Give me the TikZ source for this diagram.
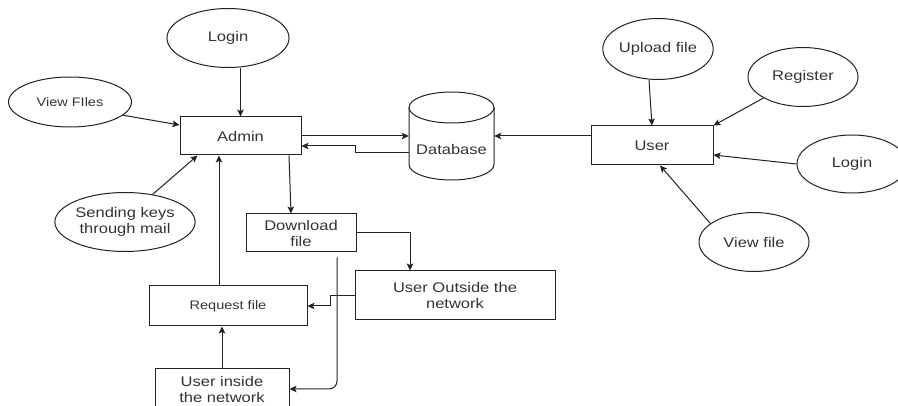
\documentclass[tikz,border=0pt]{standalone}
\usepackage{fontspec}
\setmainfont{Liberation Sans}[FakeStretch=1.18]
\usetikzlibrary{shapes.geometric,arrows.meta,calc}
\definecolor{ink}{HTML}{222222}
\definecolor{txt}{HTML}{333333}
\tikzset{
  base/.style={draw=ink, line width=1pt, text=txt, inner sep=0pt, align=center,
    font=\fontsize{14}{16}\selectfont},
  proc/.style={base, rectangle},
  oval/.style={base, ellipse},
  small/.style={font=\fontsize{12.3}{15}\selectfont},
  arr/.style={draw=ink, line width=1pt, -{Stealth[length=7pt,width=6.5pt,inset=1.5pt]}},
}
\begin{document}
\begin{tikzpicture}[x=1pt, y=-1pt]
\clip (0,0) rectangle (898,406);

% admin side
\node[oval, minimum width=122pt, minimum height=59pt] (loginA) at (228,38) {Login};
\node[oval, small, minimum width=123pt, minimum height=50pt] (viewfiles) at (70,102) {View FIles};
\node[oval, minimum width=134pt, minimum height=59pt] (sendkeys) at (125,222) {Sending keys\\through mail};
\node[proc, minimum width=121pt, minimum height=38pt] (admin) at (240.5,136) {Admin};
\node[proc, minimum width=110pt, minimum height=38pt] (download) at (301,233) {Download\\file};
\node[proc, small, minimum width=158pt, minimum height=40pt] (request) at (228,306) {Request file};
\node[proc, minimum width=134pt, minimum height=40pt] (inside) at (222,389) {User inside\\the network};
\node[proc, minimum width=200pt, minimum height=49pt] (outside) at (455,295.5) {User Outside the\\network};

% database cylinder
\node[minimum width=85pt, minimum height=88pt, inner sep=0pt] (db) at (451.5,136) {};
\draw[ink, line width=1pt] (451.5,107.5) ellipse [x radius=42.5pt, y radius=15.5pt];
\draw[ink, line width=1pt] (409,107.5) -- (409,164.5)
  arc[start angle=180, end angle=360, x radius=42.5pt, y radius=15.5pt] -- (494,107.5);
\node[text=txt, font=\fontsize{14}{16}\selectfont] (dbtext) at (451.5,149) {Database};

% user side
\node[proc, minimum width=122pt, minimum height=39pt] (user) at (652,145.5) {User};
\node[oval, minimum width=110pt, minimum height=61pt] (upload) at (658,49) {Upload file};
\node[oval, minimum width=110pt, minimum height=59pt] (register) at (803,77) {Register};
\node[oval, minimum width=110pt, minimum height=58pt] (loginU) at (852,164) {Login};
\node[oval, minimum width=110pt, minimum height=59pt] (viewfile) at (754,242) {View file};

% admin connectors
\draw[arr] (admin.north |- loginA.south) -- (admin.north);
\draw[arr] (viewfiles.-14) -- ([yshift=11pt]admin.west);
\draw[arr] (sendkeys.45) -- ([xshift=18pt]admin.south west);
\draw[arr] ([xshift=-9pt]request.north) -- ([xshift=-9pt]request.north |- admin.south);
\draw[arr] ([xshift=48.5pt]admin.south) -- ([xshift=-10pt]download.north);
\draw[arr] (download.east) -| ([xshift=-45pt]outside.north);
\draw[arr] (outside.west) -- ++(-24,0) |- (request.east);
\draw[arr, rounded corners=8pt] ([xshift=36pt,yshift=-5pt]download.south) |- (inside.east);
\draw[arr] (inside.north) -- (inside.north |- request.south);

% database connectors
\draw[arr] (admin.east) -- (db.west);
\draw[arr] ([yshift=-17pt]db.west) -- ++(-53,0) |- ([yshift=-10pt]admin.east);
\draw[arr] (user.west |- db.east) -- (db.east);

% user connectors
\draw[arr] ([xshift=-9pt]upload.south) -- (user.north);
\draw[arr] (register.208) -- (user.north east);
\draw[arr] (loginU.west) -- ([yshift=-9.5pt]user.east);
\draw[arr] (viewfile.157) -- ([xshift=8pt]user.south);
\end{tikzpicture}
\end{document}
